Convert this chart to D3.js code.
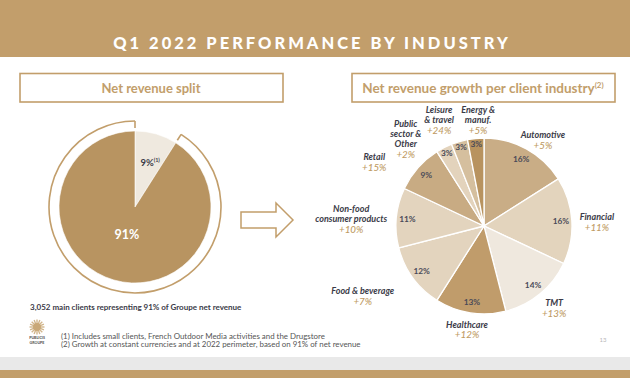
<!DOCTYPE html>
<html><head><meta charset="utf-8">
<script src="https://cdn.jsdelivr.net/npm/d3@7"></script>
<style>
html,body{margin:0;padding:0;background:#fff;}
svg{display:block;font-family:Lato,"Open Sans",sans-serif;}
</style></head>
<body>
<svg id="c" width="630" height="378"></svg>
<script>
// ---- data ----
const splitLabels = ["9%", "91%"];
const splitValues = [9, 91];
const industries = ["Automotive","Financial","TMT","Healthcare","Food & beverage","Non-food consumer products","Retail","Public sector & Other","Leisure & travel","Energy & manuf."];
const industryLines = [["Automotive"],["Financial"],["TMT"],["Healthcare"],["Food & beverage"],["Non-food","consumer products"],["Retail"],["Public","sector &","Other"],["Leisure","& travel"],["Energy &","manuf."]];
const shares = [16,16,14,13,12,11,9,3,3,3];
const growth = ["+5%","+11%","+13%","+12%","+7%","+10%","+15%","+2%","+24%","+5%"];
const title = "Q1 2022 PERFORMANCE BY INDUSTRY";
const footnotes = ["(1) Includes small clients, French Outdoor Media activities and the Drugstore",
                   "(2) Growth at constant currencies and at 2022 perimeter, based on 91% of net revenue"];
const clientsNote = "3,052 main clients representing 91% of Groupe net revenue";

// ---- style / layout ----
const GOLD = "#c29e6b", DARK = "#3b3b48", GROWTH = "#c09b64";
const sliceColors = ["#c9ad86","#e3d4bd","#efe8de","#c09c6b","#e3d4be","#e3d4be","#c8ab83","#e3d3bc","#d5bf9e","#b8935f"];
const splitColors = ["#efe9df","#b89461"];
// label placement (polar: angle deg from 12 o'clock clockwise, radius px)
const labelPolar = [[34.5,104],[88,113],[139.5,108],[189.3,105],[240,140],[273,133],[300.2,127],[318,117],[337,115],[356.8,106]];

const svg = d3.select("#c");
const rad = a => a*Math.PI/180;

// banner
svg.append("rect").attr("x",0).attr("y",0).attr("width",630).attr("height",57).attr("fill",GOLD);
svg.append("text").attr("x",312).attr("y",48.5).attr("text-anchor","middle")
  .attr("fill","#fff").attr("font-size",16.5).attr("font-weight",900)
  .attr("letter-spacing",3).text(title);

// bottom bands
svg.append("rect").attr("x",0).attr("y",357).attr("width",630).attr("height",13).attr("fill","#e9e9e9");
svg.append("rect").attr("x",0).attr("y",370).attr("width",630).attr("height",8).attr("fill",GOLD);
svg.append("text").attr("x",603).attr("y",342).attr("text-anchor","middle").attr("fill","#b8b8b8")
  .attr("font-size",6).text("13");

// boxes
function box(x,y,w,h){
  svg.append("rect").attr("x",x).attr("y",y).attr("width",w).attr("height",h)
    .attr("fill","#fff").attr("stroke",GOLD).attr("stroke-width",1.6);
}
box(20,73.5,263,28.5);
svg.append("text").attr("x",151).attr("y",92.5).attr("text-anchor","middle").attr("fill",GOLD)
  .attr("font-size",13).attr("font-weight",700).text("Net revenue split");
box(352,73.5,263,28.5);
const t2 = svg.append("text").attr("x",483).attr("y",92.5).attr("text-anchor","middle").attr("fill",GOLD)
  .attr("font-size",13.5).attr("font-weight",700);
t2.append("tspan").text("Net revenue growth per client industry");
t2.append("tspan").attr("font-size",8).attr("dy",-5).text("(2)");

// ---- left pie ----
const lc = [135,207], lr = 76;
const lg = svg.append("g").attr("transform",`translate(${lc})`);
const lpie = d3.pie().sort(null).value(d=>d)(splitValues);
const larc = d3.arc().innerRadius(0).outerRadius(lr);
lg.selectAll("path").data(lpie).join("path").attr("d",larc)
  .attr("fill",(d,i)=>splitColors[i]).attr("stroke","#fff").attr("stroke-width",0.6);
// bracket arc around the 91% slice
const bigSlice = lpie[1];
const ringR = 86, tickR = 79;
lg.append("path").attr("d", d3.arc().innerRadius(ringR).outerRadius(ringR)
    .startAngle(bigSlice.startAngle).endAngle(bigSlice.endAngle)())
  .attr("fill","none").attr("stroke",GOLD).attr("stroke-width",1.6);
[bigSlice.startAngle, bigSlice.endAngle].forEach(a=>{
  lg.append("line").attr("x1",Math.sin(a)*tickR).attr("y1",-Math.cos(a)*tickR)
    .attr("x2",Math.sin(a)*ringR).attr("y2",-Math.cos(a)*ringR)
    .attr("stroke",GOLD).attr("stroke-width",1.6);
});
// labels
const sm = lpie[0];
const smA = (sm.startAngle+sm.endAngle)/2;
const smT = lg.append("text").attr("x",Math.sin(smA)*lr*0.62+2).attr("y",-Math.cos(smA)*lr*0.62+4)
  .attr("text-anchor","middle").attr("fill",DARK).attr("font-size",9.5).attr("font-weight",700);
smT.append("tspan").text(splitLabels[0]);
smT.append("tspan").attr("font-size",5.5).attr("dy",-3.5).text("(1)");
const bA = (bigSlice.startAngle+bigSlice.endAngle)/2;
lg.append("text").attr("x",Math.sin(bA)*lr*0.38).attr("y",-Math.cos(bA)*lr*0.38+4.5)
  .attr("text-anchor","middle").attr("fill","#fff").attr("font-size",12.5).attr("font-weight",700)
  .text(splitLabels[1]);

svg.append("text").attr("x",30).attr("y",309.5).attr("fill",DARK).attr("font-size",8).attr("font-weight",700)
  .text(clientsNote);

// arrow
const ax=241, ay=220;
svg.append("path").attr("d",`M${ax},${ay-8}H${ax+35}V${ay-17}L${ax+52},${ay}L${ax+35},${ay+17}V${ay+8}H${ax}Z`)
  .attr("fill","#fff").attr("stroke",GOLD).attr("stroke-width",1.5).attr("stroke-linejoin","miter");

// logo
const logo = svg.append("g").attr("transform","translate(37,327)");
d3.range(16).forEach(i=>{
  const a = i/16*2*Math.PI;
  logo.append("line").attr("x1",Math.sin(a)*3).attr("y1",-Math.cos(a)*3)
    .attr("x2",Math.sin(a)*7.5).attr("y2",-Math.cos(a)*7.5).attr("stroke","#d2b68c").attr("stroke-width",1.4);
});
logo.append("circle").attr("r",4).attr("fill","#c9a877");
logo.append("text").attr("x",0).attr("y",12).attr("text-anchor","middle").attr("font-size",3.6)
  .attr("font-weight",900).attr("fill","#555").text("PUBLICIS");
logo.append("text").attr("x",0).attr("y",16.5).attr("text-anchor","middle").attr("font-size",3.6)
  .attr("font-weight",900).attr("fill","#555").text("GROUPE");

svg.selectAll(".fn").data(footnotes).join("text").attr("class","fn")
  .attr("x",61).attr("y",(d,i)=>338.5+i*8.6).attr("fill","#555").attr("font-size",7.9).text(d=>d);

// ---- right pie ----
const rc = [484,226], rr = 88;
const rg = svg.append("g").attr("transform",`translate(${rc})`);
const rpie = d3.pie().sort(null).value(d=>d)(shares);
const rarc = d3.arc().innerRadius(0).outerRadius(rr);
rg.selectAll("path").data(rpie).join("path").attr("d",rarc)
  .attr("fill",(d,i)=>sliceColors[i]).attr("stroke","#fff").attr("stroke-width",1.3);
rg.selectAll("text.pct").data(rpie).join("text").attr("class","pct")
  .each(function(d){
    const a=(d.startAngle+d.endAngle)/2, r = d.data<5 ? 82 : 77;
    d3.select(this).attr("x",Math.sin(a)*r).attr("y",-Math.cos(a)*r+3);
  })
  .attr("text-anchor","middle").attr("fill","#4a4a58").attr("font-size",8.3).attr("font-weight",700)
  .text(d=>d.data+"%");

// outer labels
industries.forEach((name,i)=>{
  const [a,r] = labelPolar[i];
  const cx = Math.sin(rad(a))*r, cy = -Math.cos(rad(a))*r;
  const lines = industryLines[i];
  const lh = 10;
  const total = lines.length+1;
  const y0 = cy - (total-1)*lh/2 + 3;
  const g = rg.append("g");
  lines.forEach((ln,j)=>{
    g.append("text").attr("x",cx).attr("y",y0+j*lh).attr("text-anchor","middle")
      .attr("fill",DARK).attr("font-size",9).attr("font-weight",700).attr("font-style","italic").text(ln);
  });
  g.append("text").attr("x",cx).attr("y",y0+lines.length*lh+0.5).attr("text-anchor","middle")
    .attr("fill",GROWTH).attr("font-size",9.8).attr("font-style","italic").attr("font-weight",500).text(growth[i]);
});
</script>
</body></html>
